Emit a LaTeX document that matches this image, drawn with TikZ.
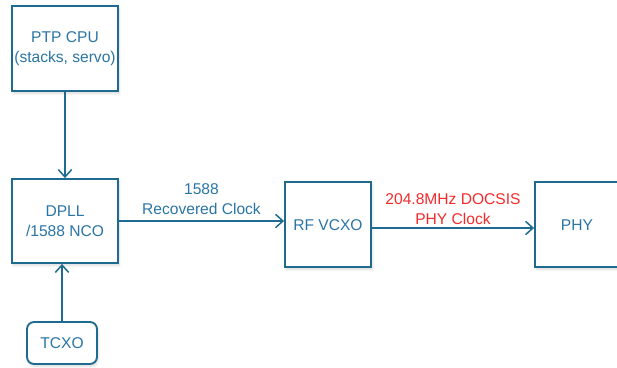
\documentclass[tikz,border=0pt]{standalone}
\usepackage{fontspec}
\setmainfont{Liberation Sans}
\usetikzlibrary{arrows.meta, shadows.blur}
\definecolor{lineblue}{HTML}{1F6A8F}
\definecolor{textblue}{HTML}{2A75A5}
\definecolor{clkred}{HTML}{F42A2A}

\begin{document}
\begin{tikzpicture}[
  >={Straight Barb[length=2.2mm, width=4mm, line width=1.3pt]},
  line width=1.6pt,
  block/.style={draw=lineblue, fill=white, text=textblue, align=center,
    inner sep=1pt, font=\fontsize{13.3}{17}\selectfont,
    blur shadow={shadow blur steps=6, shadow xshift=1pt, shadow yshift=-2pt, shadow opacity=15}},
  sig/.style={->, lineblue},
  lbl/.style={align=center, font=\fontsize{13.3}{17}\selectfont, anchor=south}
]

% Background / frame
\useasboundingbox (0,0) rectangle (18.51,-11.04);

% ── Blocks ──
\node[block, minimum width=3.18cm, minimum height=2.55cm] (ptpcpu)
  at (1.95,-1.46) {PTP CPU\\(stacks, servo)};
\node[block, minimum width=3.18cm, minimum height=2.52cm] (dpll)
  at (1.95,-6.63) {DPLL\\/1588 NCO};
\node[block, rounded corners=6pt, minimum width=2.1cm, minimum height=1.26cm] (tcxo)
  at (1.86,-10.29) {TCXO};
\node[block, minimum width=2.58cm, minimum height=2.55cm] (rfvcxo)
  at (9.84,-6.74) {RF VCXO};
\node[block, minimum width=2.52cm, minimum height=2.55cm] (phy)
  at (17.31,-6.74) {PHY};

% ── Connectors ──
\draw[sig] (ptpcpu) -- (dpll);
\draw[sig] (tcxo.north) -- (tcxo.north |- dpll.south);
\draw[sig] (dpll.east) -- (dpll.east -| rfvcxo.west)
  node[lbl, text=textblue, midway, yshift=1pt] {1588\\Recovered Clock};
\draw[sig] ([yshift=-0.1cm]rfvcxo.east) -- ([yshift=-0.1cm]rfvcxo.east -| phy.west)
  node[lbl, text=clkred, midway, yshift=-1pt] {204.8MHz DOCSIS\\PHY Clock};

\end{tikzpicture}
\end{document}
